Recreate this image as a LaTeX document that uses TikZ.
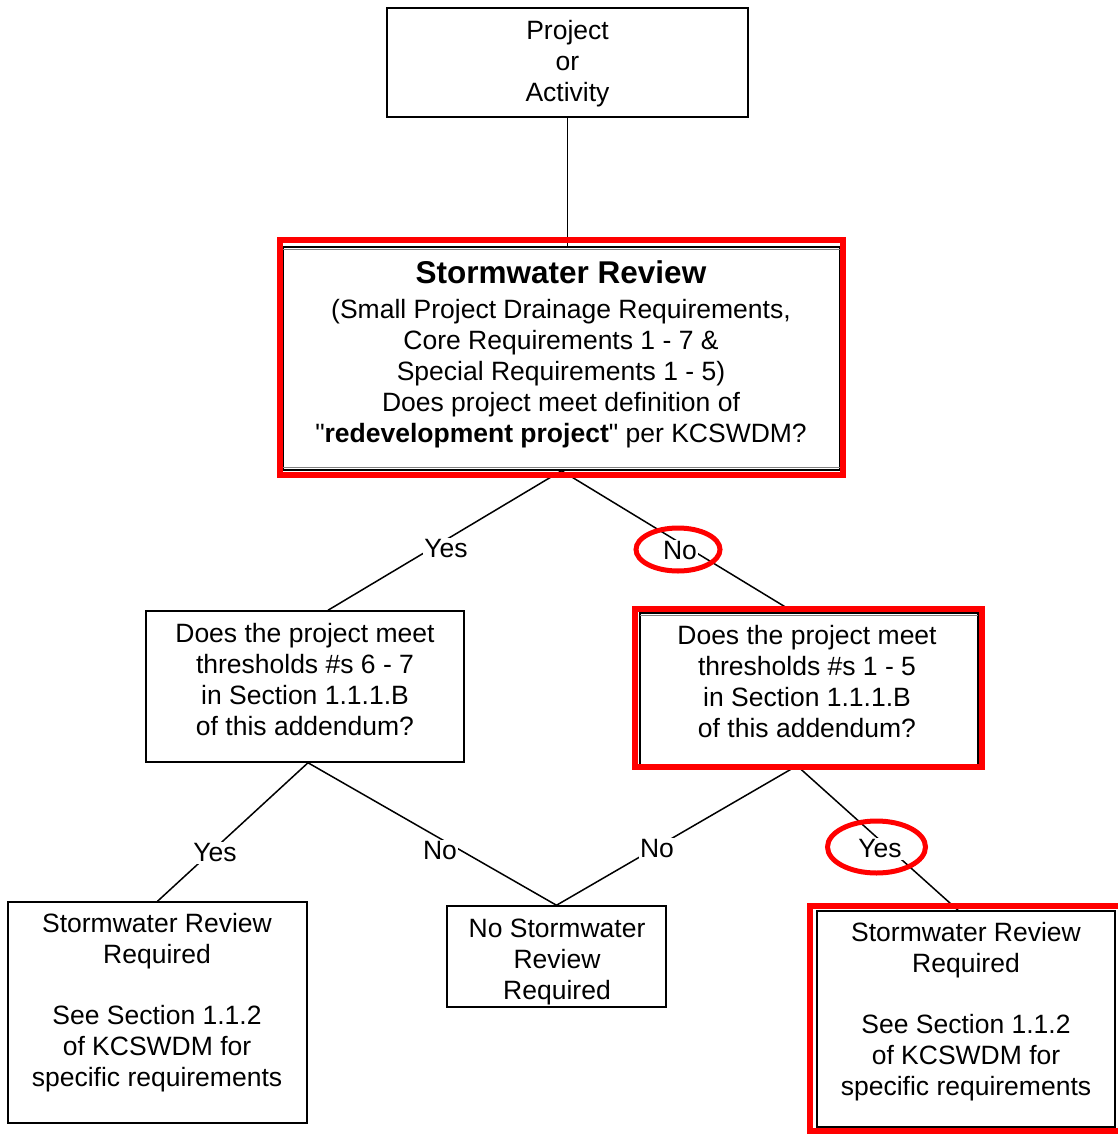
\documentclass[tikz,border=0pt]{standalone}
\usepackage{fontspec}
\setmainfont{Liberation Sans}
\newfontfamily\plainq{Liberation Sans}[Ligatures=TeXOff]
\usetikzlibrary{calc,shapes.geometric}
\begin{document}
\begin{tikzpicture}[x=1pt,y=-1pt,
  box/.style={draw=black, line width=1.5pt, inner sep=0pt},
  redbox/.style={draw=red, line width=6pt, inner sep=0pt},
  txt/.style={align=center, font=\fontsize{26.5}{31}\selectfont, inner sep=0pt},
  lbl/.style={fill=white, font=\fontsize{26.5}{31}\selectfont, inner sep=1.5pt},
  conn/.style={line width=1.5pt},
  ring/.style={draw=red, line width=5pt, ellipse, inner sep=0pt},
  thin/.style={draw=gray, line width=1pt}]
\useasboundingbox[fill=white] (0,0) rectangle (1117,1134);

% boxes
\node[box, minimum width=361pt, minimum height=109pt] (top) at (567.5,62.5) {};
\node[box, minimum width=557pt, minimum height=223pt] (sw) at (561.5,358.5) {};
\node[box, minimum width=318pt, minimum height=151pt] (ml) at (305,686.5) {};
\node[box, minimum width=338pt, minimum height=152pt] (mr) at (809,689) {};
\node[box, minimum width=299pt, minimum height=221pt] (bl) at (157.5,1012.5) {};
\node[box, minimum width=219pt, minimum height=101pt] (nb) at (556.5,956.5) {};
\node[box, minimum width=298pt, minimum height=216pt] (br) at (966,1019) {};

% connectors
\draw[conn] (top.south) -- (top.south |- sw.north);
\draw[conn] (sw.south) -- ($(ml.north)+(23,0)$);
\draw[conn] (sw.south) -- ($(mr.north)+(-15,0)$);
\draw[conn] ($(ml.south)+(3,0)$) -- (bl.north);
\draw[conn] ($(ml.south)+(3,0)$) -- (nb.north);
\draw[conn] ($(mr.south)+(-12,0)$) -- (nb.north);
\draw[conn] ($(mr.south)+(-12,0)$) -- ($(br.north)+(-8,0)$);

% inner gray rules
\draw[thin] ($(sw.north west)+(1,3)$) -- ($(sw.north east)+(-1,3)$);
\draw[thin] ($(sw.south west)+(1,-3)$) -- ($(sw.south east)+(-1,-3)$);
\draw[thin] ($(mr.north west)+(1,3)$) -- ($(mr.north east)+(-1,3)$);

% red highlight frames
\node[redbox, minimum width=563pt, minimum height=235pt] (swred) at (561.5,357.5) {};
\node[redbox, minimum width=347pt, minimum height=158pt] (mrred) at (808.5,688) {};
\node[redbox, minimum width=312pt, minimum height=225pt] (brred) at (966,1018.5) {};

% texts
\node[txt] (toptxt) at (567.5,64) {Project\\or\\Activity};
\node[txt] (swtxt) at (561,354.5) {{\bfseries\fontsize{31.5}{36}\selectfont Stormwater Review}\\[3.5pt]
(Small Project Drainage Requirements,\\
Core Requirements 1 - 7 \&\\
Special Requirements 1 - 5)\\
Does project meet definition of\\
{\plainq"}\textbf{redevelopment project}{\plainq"} per KCSWDM?};
\node[txt] (mltxt) at (305,679.5) {Does the project meet\\thresholds \#s 6 - 7\\in Section 1.1.1.B\\of this addendum?};
\node[txt] (mrtxt) at (807,681.5) {Does the project meet\\thresholds \#s 1 - 5\\in Section 1.1.1.B\\of this addendum?};
\node[txt] (bltxt) at (157,1002.5) {Stormwater Review\\Required\\[30pt]See Section 1.1.2\\of KCSWDM for\\specific requirements};
\node[txt] (nbtxt) at (557,961.5) {No Stormwater\\Review\\Required};
\node[txt] (brtxt) at (966,1011.5) {Stormwater Review\\Required\\[30pt]See Section 1.1.2\\of KCSWDM for\\specific requirements};

% labels
\node[lbl] (yes1) at (446,549) {Yes};
\node[lbl] (no1) at (680,551) {No};
\node[lbl] (yes2) at (215,853) {Yes};
\node[lbl] (no2) at (440,851) {No};
\node[lbl] (no3) at (657,849) {No};
\node[lbl] (yes3) at (880,849) {Yes};

% red rings
\node[ring, minimum width=84pt, minimum height=43pt] (ring1) at (678,549.5) {};
\node[ring, minimum width=98pt, minimum height=52pt] (ring2) at (876.5,847) {};
\end{tikzpicture}
\end{document}
